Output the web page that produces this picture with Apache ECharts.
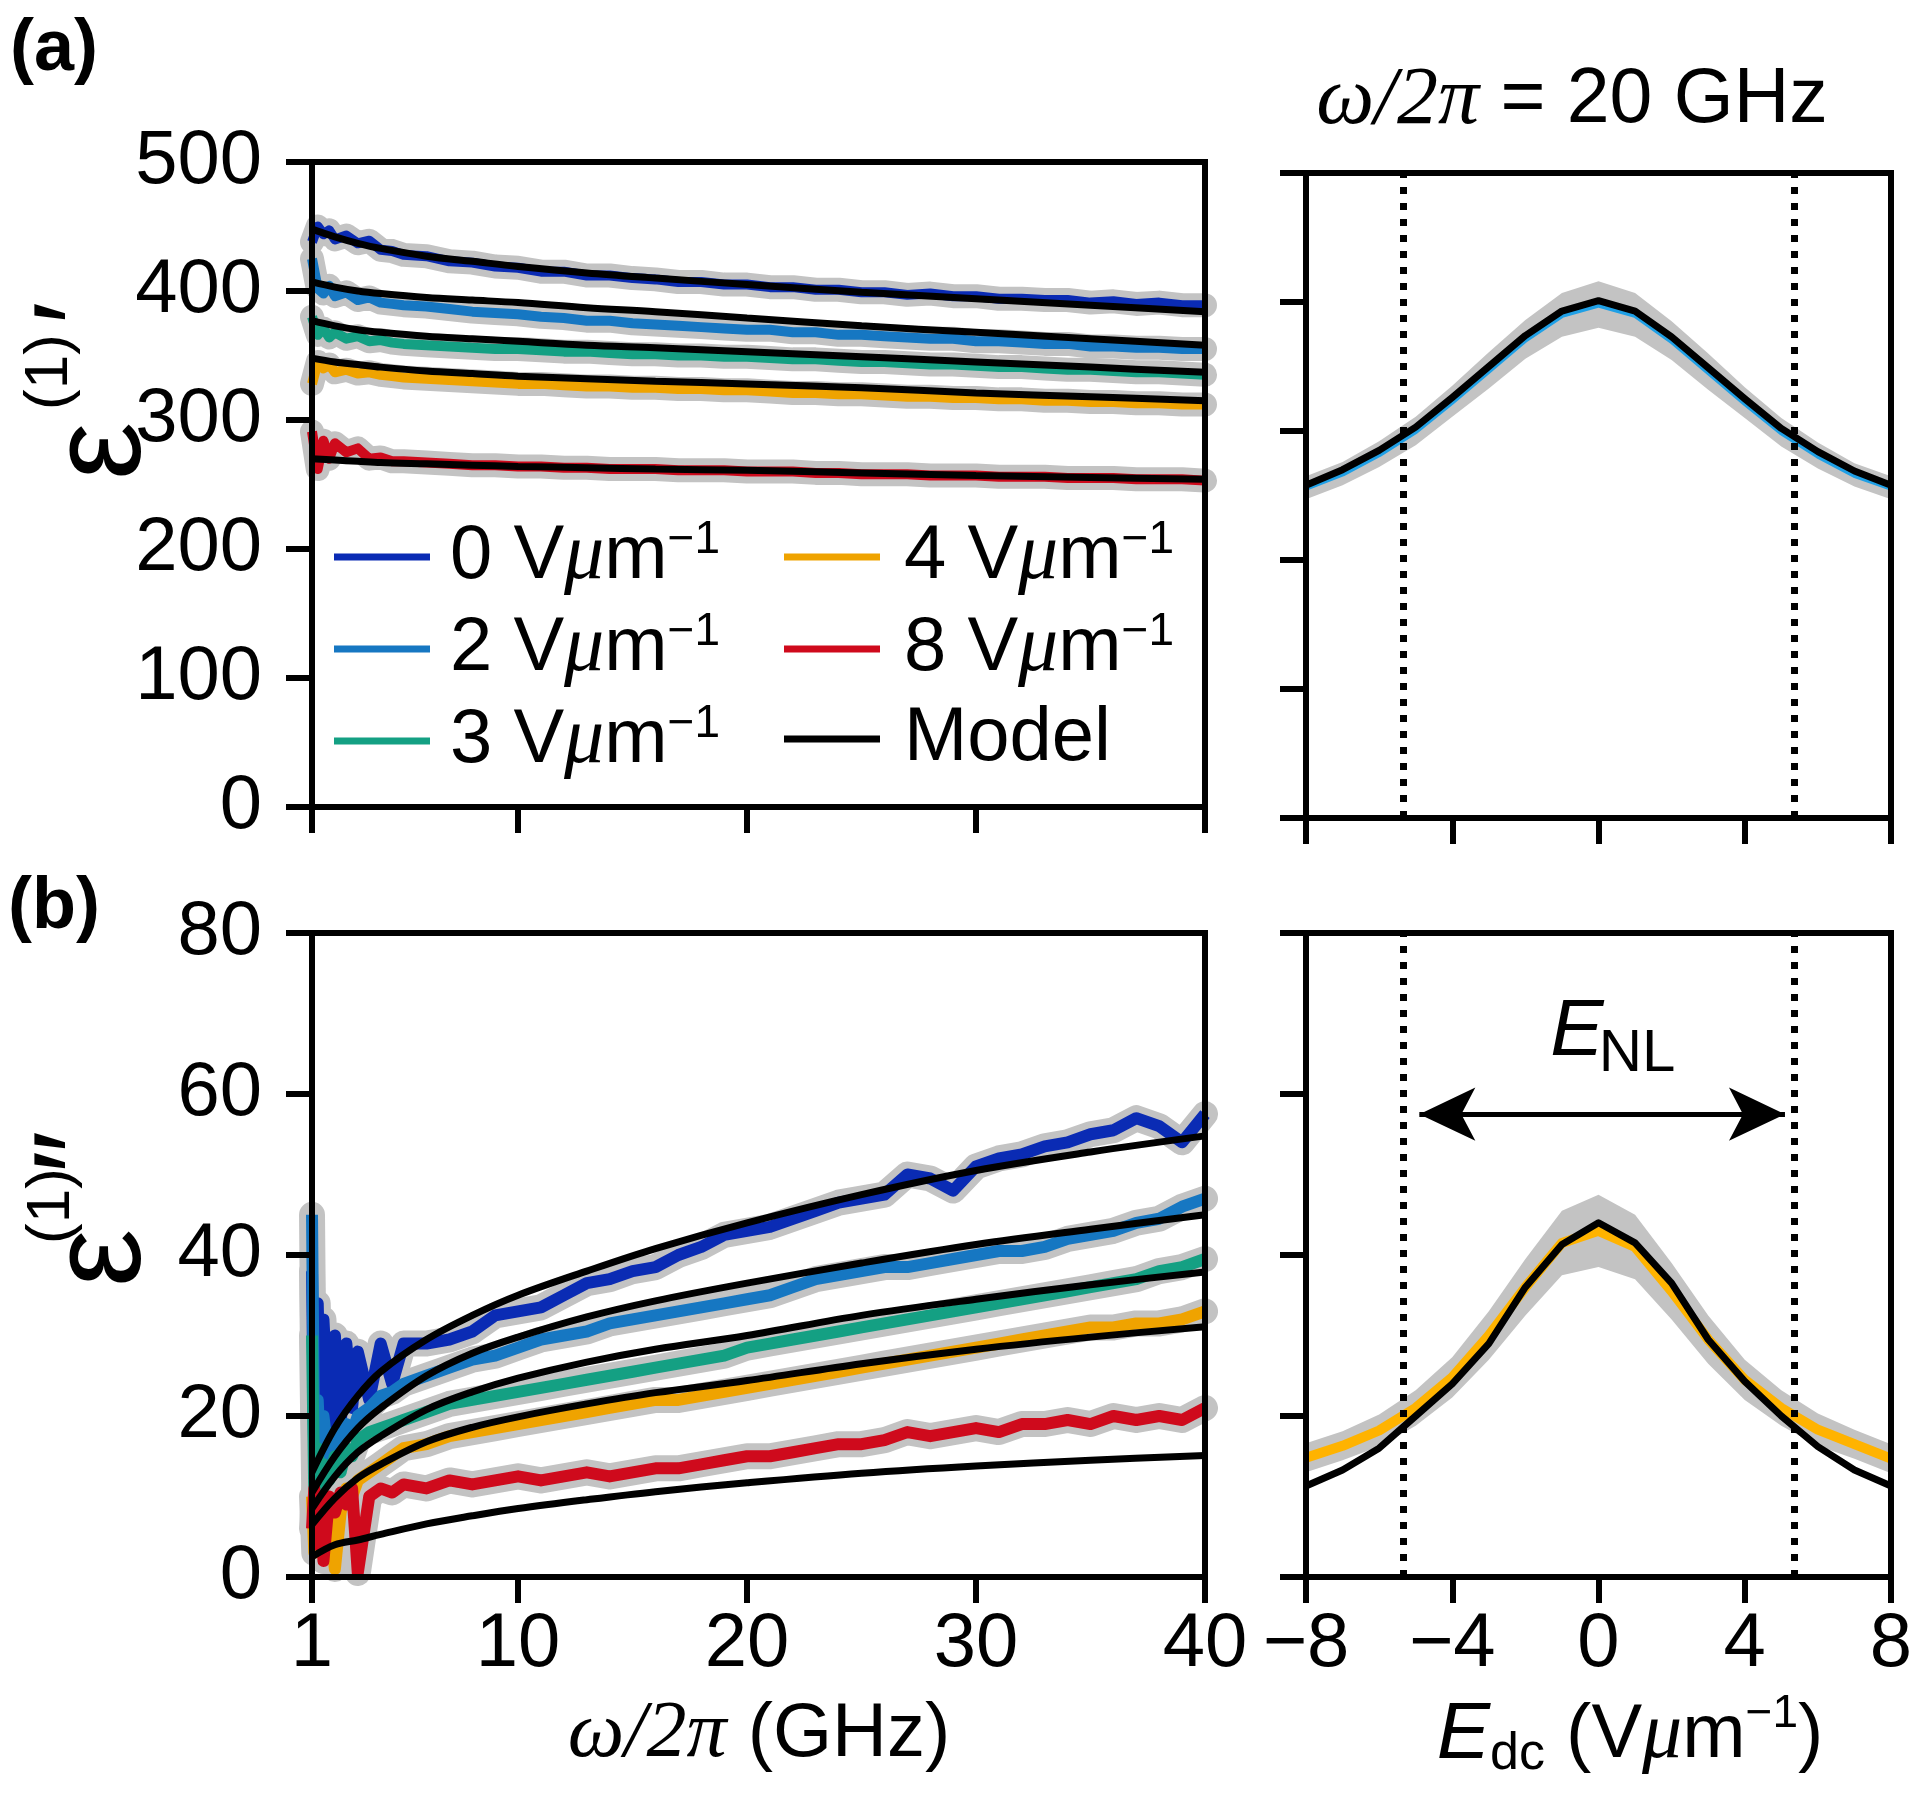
<!DOCTYPE html>
<html>
<head>
<meta charset="utf-8">
<script src="https://cdn.jsdelivr.net/npm/echarts@6.0.0/dist/echarts.min.js"></script>
<style>
html,body{margin:0;padding:0;background:#ffffff;}
#chart{width:1920px;height:1796px;}
</style>
</head>
<body>
<div id="chart"></div>
<script>
// ---------------- data ----------------
const freqA = [1,1.25,1.5,1.75,2,2.5,3,3.5,4,4.5,5,6,7,8,9,10,11,12,13,14,15,16,17,18,19,20,21,22,23,24,25,26,27,28,29,30,31,32,33,34,35,36,37,38,39,40];
const realA_0V = [438,450,444,447,440,443,437,439,432,431,428,427,423,422,419,418,415,415,412,412,410,409,407,407,405,405,403,403,401,401,399,399,397,398,396,396,394,394,393,393,391,392,390,391,389,389];
const realA_2V = [425,402,398,404,396,399,393,395,391,390,389,388,386,384,383,382,380,379,377,377,375,374,373,372,371,370,370,368,368,366,366,365,364,363,363,361,361,360,359,359,357,357,356,356,355,355];
const realA_3V = [380,366,371,364,368,363,365,361,362,360,359,358,357,356,355,355,354,353,353,352,351,351,350,350,349,349,348,347,347,346,345,345,344,343,343,342,341,341,340,339,339,338,337,337,336,335];
const realA_4V = [328,345,340,343,337,339,336,337,335,334,333,332,331,330,329,328,328,327,326,326,325,325,324,324,323,323,322,321,321,320,320,319,318,318,317,317,316,316,315,315,314,314,313,313,312,312];
const realA_8V = [291,262,284,270,282,275,278,270,271,268,268,267,266,265,265,264,264,263,263,262,262,262,261,261,261,260,260,260,259,259,258,258,258,257,257,257,256,256,256,255,255,255,254,254,254,253];

const freqB = [1,1.1,1.25,1.4,1.5,1.75,2,2.25,2.5,2.75,3,3.5,4,4.5,5,6,7,8,9,10,11,12,13,14,15,16,17,18,19,20,21,22,23,24,25,26,27,28,29,30,31,32,33,34,35,36,37,38,39,40];
const imagB_0V = [38,14,34,16,32,18,30,19,29,21,28,22,29,24,29,29,29.5,30.5,32.5,33,33.5,35,36.5,37,38,38.5,40,41,42.5,43,43.5,44.5,45.5,46.5,47,47.5,50,49.5,48,51,52,52.5,53.5,54,55,55.5,57,56,54,57.5];
const imagB_2V = [45,15,22,12,20,14,18,16,19,18,20,21,22.5,23,24,25,26,27,27.5,28.5,29.5,30,30.5,31.5,32,32.5,33,33.5,34,34.5,35,36,37,37.5,38,38.5,38.5,39,39.5,40,40.5,40.5,41,42,42.5,43,44,44.5,46,47];
const imagB_3V = [30,10,16,8,14,12,15,13,16,15,17,18,18.5,19,19.5,20.5,21.5,22,22.5,23,23.5,24,24.5,25,25.5,26,26.5,27,27.5,28.5,29,29.5,30,30.5,31,31.5,32,32.5,33,33.5,34,34.5,35,35.5,36,36.5,37,38,38.5,39.5];
const imagB_4V = [10,3,8,5,9,7,1,8,11,10,12,13,14,15,16,16.5,17.5,18,18.5,19,19.5,20,20.5,21,21.5,22,22,22.5,23,23.5,24,24.5,25,25.5,26,26.5,27,27.5,28,28.5,29,29.5,30,30.5,31,31,31.5,31.5,32,33];
const imagB_8V = [6,11,4,9,2,10,8,10.5,9,11,0.5,10,11,10.5,11.5,11,12,11.5,12,12.5,12,12.5,13,12.5,13,13.5,13.5,14,14.5,15,15,15.5,16,16.5,16.5,17,18,17.5,18,18.5,18,19,19,19.5,19,20,19.5,20,19.5,21];

const modelFreq = [1,2,3,4,6,8,10,13,16,20,25,30,35,40];
const modelA_0V = [448,442,437,433,427,423,419,414,410,405,399,394,389,384];
const modelA_2V = [407,403,400,398,395,393,391,387,384,379,373,368,363,358];
const modelA_3V = [377,373,370,368,365,363,361,358,356,353,349,345,341,337];
const modelA_4V = [348,345,343,341,338,336,334,332,330,328,325,321,318,315];
const modelA_8V = [270,269,268,267,266,265,264,263,262,261,259,257,255.5,254];
const modelB_0V = [13,18.5,22.5,25.5,29.5,32.5,35,38,40.8,44,47.5,50.5,52.8,54.8];
const modelB_2V = [10.5,15,18.5,21,25,27.8,29.8,32.3,34.3,36.5,39,41.3,43.2,45];
const modelB_3V = [8.5,12.5,15.5,17.5,20.8,23,24.7,26.7,28.3,30,32.5,34.5,36.3,37.9];
const modelB_4V = [6.5,9.8,12.3,14,16.8,18.6,19.9,21.5,22.9,24.4,26.5,28.3,29.8,31.1];
const modelB_8V = [2.5,4,4.6,5.3,6.6,7.6,8.5,9.6,10.6,11.7,12.9,13.8,14.5,15.1];

const fieldE = [-8,-7,-6,-5,-4,-3,-2,-1,0,1,2,3,4,5,6,7,8];
const realE_data  = [256,267,282,300,323,347,371,390,398,390,370,346,322,299,281,266,256];
const realE_model = [258,270,285,303,326,350,374,393,401,393,373,349,325,302,284,269,258];
const realE_err   = [9,9,10,11,12,14,15,17,18,17,15,14,12,11,10,9,9];
const imagE_data  = [14.8,16.3,18.2,21,24.8,30,36,41.5,43,41,35.5,29.5,24.5,21,18.3,16.5,14.7];
const imagE_model = [11.3,13.3,16,20,24,29,36,41.3,44,41.5,36.5,29.5,24.3,20,16.2,13.3,11.3];
const imagE_err   = [1.8,1.8,2,2.2,2.5,3,3.5,4,4.5,4,3.5,3,2.5,2.2,2,1.8,1.8];
const eNL = [-5.35, 5.35];
const arrowE = [-4.9, 5.1];
const arrowY = 57.5;

const fieldNames = ['0','2','3','4','8'];
const freqTicks = [1,10,20,30,40];

// ---------------- styling ----------------
const SANS = '"Liberation Sans", Arial, sans-serif';
const SERIF = '"Liberation Serif", "Times New Roman", serif';
const colors = ['#0a2bb4','#1677c2','#14a083','#efa300','#cf0a1c'];
const GREY = '#c3c3c3';

function pts(xs, ys){ return xs.map((x,i)=>[x, ys[i]]); }

const series = [];
function addFreqPanel(idx, freq, data, models, cw, gw){
  data.forEach((d)=>series.push({
    type:'line', name:'band', xAxisIndex:idx, yAxisIndex:idx, data:pts(freq,d),
    symbol:'none', silent:true, z:1, animation:false,
    lineStyle:{color:GREY, width:gw, join:'round', cap:'round'}, emphasis:{disabled:true}
  }));
  data.forEach((d,i)=>series.push({
    type:'line', name:fieldNames[i], xAxisIndex:idx, yAxisIndex:idx, data:pts(freq,d),
    symbol:'none', z:2, animation:false,
    lineStyle:{color:colors[i], width:cw, join:'round'}, itemStyle:{color:colors[i]}, emphasis:{disabled:true}
  }));
  models.forEach((m)=>series.push({
    type:'line', name:'Model', xAxisIndex:idx, yAxisIndex:idx, data:pts(modelFreq,m),
    symbol:'none', smooth:0.35, z:3, animation:false,
    lineStyle:{color:'#000', width:7}, itemStyle:{color:'#000'}, emphasis:{disabled:true}
  }));
}
addFreqPanel(0, freqA, [realA_0V,realA_2V,realA_3V,realA_4V,realA_8V], [modelA_0V,modelA_2V,modelA_3V,modelA_4V,modelA_8V], 10, 24);
addFreqPanel(1, freqB, [imagB_0V,imagB_2V,imagB_3V,imagB_4V,imagB_8V], [modelB_0V,modelB_2V,modelB_3V,modelB_4V,modelB_8V], 12, 26);

function bandSeries(idx, vals, err){
  const lo = vals.map((v,i)=>v-err[i]);
  const hi = vals.map((v,i)=>v+err[i]);
  return {
    type:'custom', name:'band', xAxisIndex:idx, yAxisIndex:idx, silent:true, z:1, animation:false,
    data: fieldE.map((e,i)=>[e, lo[i], hi[i]]),
    encode:{x:0, y:[1,2]},
    renderItem:function(params, api){
      if(params.dataIndex!==0) return null;
      const p=[];
      for(let i=0;i<fieldE.length;i++) p.push(api.coord([fieldE[i], hi[i]]));
      for(let i=fieldE.length-1;i>=0;i--) p.push(api.coord([fieldE[i], lo[i]]));
      return {type:'polygon', shape:{points:p}, style:{fill:GREY}};
    }
  };
}
const dotted = {
  silent:true, symbol:'none', label:{show:false}, emphasis:{disabled:true}, animation:false,
  lineStyle:{color:'#000', width:7, type:[7,9], cap:'butt'},
  data: eNL.map(v=>({xAxis:v}))
};
function addFieldPanel(idx, vals, err, model, col, w, extraMark){
  series.push(bandSeries(idx, vals, err));
  series.push({type:'line', name:'field'+idx, xAxisIndex:idx, yAxisIndex:idx, data:pts(fieldE, vals),
    symbol:'none', z:2, animation:false, lineStyle:{color:col, width:w, join:'round'}, emphasis:{disabled:true},
    markLine: extraMark});
  series.push({type:'line', name:'fieldModel'+idx, xAxisIndex:idx, yAxisIndex:idx, data:pts(fieldE, model),
    symbol:'none', z:3, animation:false, lineStyle:{color:'#000', width:7, join:'round'}, emphasis:{disabled:true},
    markLine: dotted});
}
addFieldPanel(2, realE_data, realE_err, realE_model, '#1fa0e6', 6, undefined);
addFieldPanel(3, imagE_data, imagE_err, imagE_model, '#ffb300', 10, {
  silent:true, symbol:['arrow','arrow'], symbolSize:[40,56], label:{show:false}, emphasis:{disabled:true}, animation:false,
  lineStyle:{color:'#000', width:5, type:'solid'},
  data:[[{coord:[arrowE[0], arrowY]},{coord:[arrowE[1], arrowY]}]]
});

// ---------------- axes ----------------
function axisBase(extra){
  return Object.assign({
    type:'value', z:6,
    axisLine:{show:true, onZero:false, lineStyle:{color:'#000', width:6, cap:'square'}},
    axisTick:{show:true, inside:false, length:26, lineStyle:{color:'#000', width:6}},
    splitLine:{show:false}, minorTick:{show:false},
    axisLabel:{show:true, color:'#000', fontSize:76, fontFamily:SANS}
  }, extra);
}
const minusFmt = v => v<0 ? '\u2212'+(-v) : String(v);
const xAxis = [
  axisBase({gridIndex:0, min:1, max:40, axisTick:{show:true, length:26, lineStyle:{color:'#000', width:6}, customValues:freqTicks}, axisLabel:{show:false}}),
  axisBase({gridIndex:1, min:1, max:40, axisTick:{show:true, length:26, lineStyle:{color:'#000', width:6}, customValues:freqTicks},
    axisLabel:{show:true, color:'#000', fontSize:76, fontFamily:SANS, margin:30, customValues:freqTicks}}),
  axisBase({gridIndex:2, min:-8, max:8, interval:4, axisLabel:{show:false}}),
  axisBase({gridIndex:3, min:-8, max:8, interval:4, axisLabel:{show:true, color:'#000', fontSize:76, fontFamily:SANS, margin:30, formatter:minusFmt}})
];
const yAxis = [
  axisBase({gridIndex:0, min:0, max:500, interval:100, axisLabel:{show:true, color:'#000', fontSize:76, fontFamily:SANS, margin:50}}),
  axisBase({gridIndex:1, min:0, max:80, interval:20, axisLabel:{show:true, color:'#000', fontSize:76, fontFamily:SANS, margin:50}}),
  axisBase({gridIndex:2, min:0, max:500, interval:100, axisLabel:{show:false}}),
  axisBase({gridIndex:3, min:0, max:80, interval:20, axisLabel:{show:false}})
];
function gridBox(l,t,w,h){
  return {left:l, top:t, width:w, height:h, show:true, borderColor:'#000', borderWidth:6,
    backgroundColor:'transparent', containLabel:false, outerBoundsMode:'none', z:5};
}

// ---------------- legend ----------------
function legendFmt(){
  return function(name){
    if(name==='Model') return '{g| }{t|Model}';
    return '{g| }{t|'+name+' V}{mu|\u03bc}{t|m}{s|\u22121}';
  };
}
function legendRich(pad){
  return {
    g:{width:pad, fontSize:10, lineHeight:80},
    t:{fontSize:76, fontFamily:SANS, color:'#000', lineHeight:80, verticalAlign:'middle'},
    mu:{fontSize:80, fontFamily:SERIF, fontStyle:'italic', color:'#000', lineHeight:80, verticalAlign:'middle'},
    s:{fontSize:46, fontFamily:SANS, color:'#000', lineHeight:36, verticalAlign:'top'}
  };
}
function legendBox(left, names, pad){
  return {
    data:names, left:left, top:517, orient:'vertical', icon:'rect', itemWidth:96, itemHeight:7,
    itemGap:12, padding:0, selectedMode:false, formatter:legendFmt(),
    itemStyle:{borderWidth:0}, lineStyle:{width:0},
    textStyle:{color:'#000', fontSize:76, fontFamily:SANS, rich:legendRich(pad)}
  };
}

// ---------------- text ----------------
function txt(x,y,text,font,extra){
  return Object.assign({type:'text', x:x, y:y, silent:true, z:20,
    style:{text:text, font:font, fill:'#000', align:'center', verticalAlign:'middle'}}, extra||{});
}
const R = Math.PI/2;
const graphic = [
  txt(54, 50, '(a)', 'bold 72px '+SANS),
  txt(54, 908, '(b)', 'bold 72px '+SANS),
  {type:'text', x:1572, y:101, silent:true, z:20, style:{text:'{w|\u03c9/2\u03c0}{n| = 20 GHz}', align:'center', verticalAlign:'middle', fill:'#000',
    rich:{w:{fontSize:82, fontFamily:SERIF, fontStyle:'italic', fill:'#000'}, n:{fontSize:77, fontFamily:SANS, fill:'#000'}}}},
  {type:'text', x:759, y:1735, silent:true, z:20, style:{text:'{w|\u03c9/2\u03c0}{n| (GHz)}', align:'center', verticalAlign:'middle', fill:'#000',
    rich:{w:{fontSize:80, fontFamily:SERIF, fontStyle:'italic', fill:'#000'}, n:{fontSize:76, fontFamily:SANS, fill:'#000'}}}},
  {type:'text', x:1630, y:1736, silent:true, z:20, style:{text:'{e|E}{d|dc}{n| (V}{mu|\u03bc}{n|m}{s|\u22121}{n|)}', align:'center', verticalAlign:'middle', fill:'#000',
    rich:{
      e:{fontSize:80, fontFamily:SANS, fontStyle:'italic', fill:'#000', lineHeight:90, verticalAlign:'middle'},
      d:{fontSize:52, fontFamily:SANS, fill:'#000', lineHeight:37, verticalAlign:'bottom'},
      n:{fontSize:76, fontFamily:SANS, fill:'#000', lineHeight:90, verticalAlign:'middle'},
      mu:{fontSize:80, fontFamily:SERIF, fontStyle:'italic', fill:'#000', lineHeight:90, verticalAlign:'middle'},
      s:{fontSize:46, fontFamily:SANS, fill:'#000', lineHeight:40, verticalAlign:'top'}
    }}},
  txt(1577, 1033, 'E', 'italic 80px '+SANS),
  txt(1637, 1054, 'NL', '60px '+SANS),
  // y axis titles (rotated)
  txt(104, 451, '\u03b5', '130px '+SANS, {rotation:R}),
  txt(50, 372, '(1)', '62px '+SANS, {rotation:R}),
  txt(84, 313, '\u2032', '120px '+SANS, {rotation:R}),
  txt(104, 1258, '\u03b5', '130px '+SANS, {rotation:R}),
  txt(52, 1206, '(1)', '62px '+SANS, {rotation:R}),
  txt(84, 1152, '\u2033', '120px '+SANS, {rotation:R})
];

const option = {
  animation:false,
  backgroundColor:'#ffffff',
  textStyle:{fontFamily:SANS, color:'#000'},
  grid:[gridBox(312,162,893,645), gridBox(312,933,893,644), gridBox(1306,173,585,645), gridBox(1306,933,585,644)],
  xAxis:xAxis, yAxis:yAxis,
  legend:[legendBox(334, ['0','2','3'], 15), legendBox(784, ['4','8','Model'], 19)],
  tooltip:{show:false},
  series:series,
  graphic:graphic
};
const chart = echarts.init(document.getElementById('chart'), null, {renderer:'canvas', width:1920, height:1796});
chart.setOption(option);
</script>
</body>
</html>
